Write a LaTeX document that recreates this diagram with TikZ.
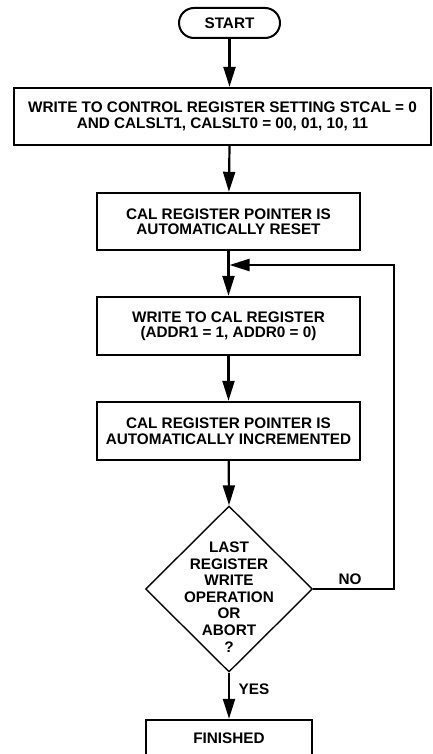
\documentclass[tikz,border=0pt]{standalone}
\usepackage{fontspec}
\setmainfont{Liberation Sans}
\usetikzlibrary{shapes.geometric,arrows.meta}
\begin{document}
\begin{tikzpicture}[x=1pt,y=-1pt,
  every node/.style={font=\fontsize{15.3}{15.5}\selectfont\bfseries},
  box/.style={draw, line width=2.4pt, inner sep=0pt, align=center},
  conn/.style={line width=2.2pt, -{Triangle[length=20pt,width=12pt]}},
  lbl/.style={inner sep=0pt}
 ]
\clip (0,0) rectangle (433,754);
\useasboundingbox (0,0) rectangle (433,754);

\node[box, rounded corners=15pt, minimum width=101pt, minimum height=30pt, line width=2pt] (start) at (229.5,23) {START};
\node[box, minimum width=417pt, minimum height=57pt] (b1) at (222.5,116.5) {WRITE TO CONTROL REGISTER SETTING STCAL = 0\\AND CALSLT1, CALSLT0 = 00, 01, 10, 11};
\node[box, minimum width=263pt, minimum height=57pt] (b2) at (228.5,221.5) {CAL REGISTER POINTER IS\\AUTOMATICALLY RESET};
\node[box, minimum width=263pt, minimum height=58pt] (b3) at (228.5,326) {WRITE TO CAL REGISTER\\(ADDR1 = 1, ADDR0 = 0)};
\node[box, minimum width=263pt, minimum height=58pt] (b4) at (228.5,431) {CAL REGISTER POINTER IS\\AUTOMATICALLY INCREMENTED};
\node[draw, diamond, line width=1.4pt, minimum width=167pt, minimum height=166pt, inner sep=0pt] (dec) at (229,589) {};
\node[align=center, inner sep=0pt, font=\fontsize{15.3}{16.6}\selectfont\bfseries] (dectext) at (229,597) {LAST\\REGISTER\\WRITE\\OPERATION\\OR\\ABORT\\?};
\node[box, minimum width=166pt, minimum height=36pt] (fin) at (229,738) {FINISHED};

\node[lbl] (no) at (350,579) {NO};
\node[lbl] (yes) at (254,689) {YES};

\coordinate (loopc) at (394,265);
\coordinate (join) at (229.5,265);

\draw[conn] (start) -- (start |- b1.north);
\draw[conn] (start |- b1.south) -- (b2);
\draw[conn] (b2) -- (b3);
\draw[conn] (b3) -- (b4);
\draw[conn] (b4) -- (dec.north);
\draw[conn] (dec.south) -- (fin);
\draw[conn] (dec.east) -| (loopc) -- (join);
\end{tikzpicture}
\end{document}
